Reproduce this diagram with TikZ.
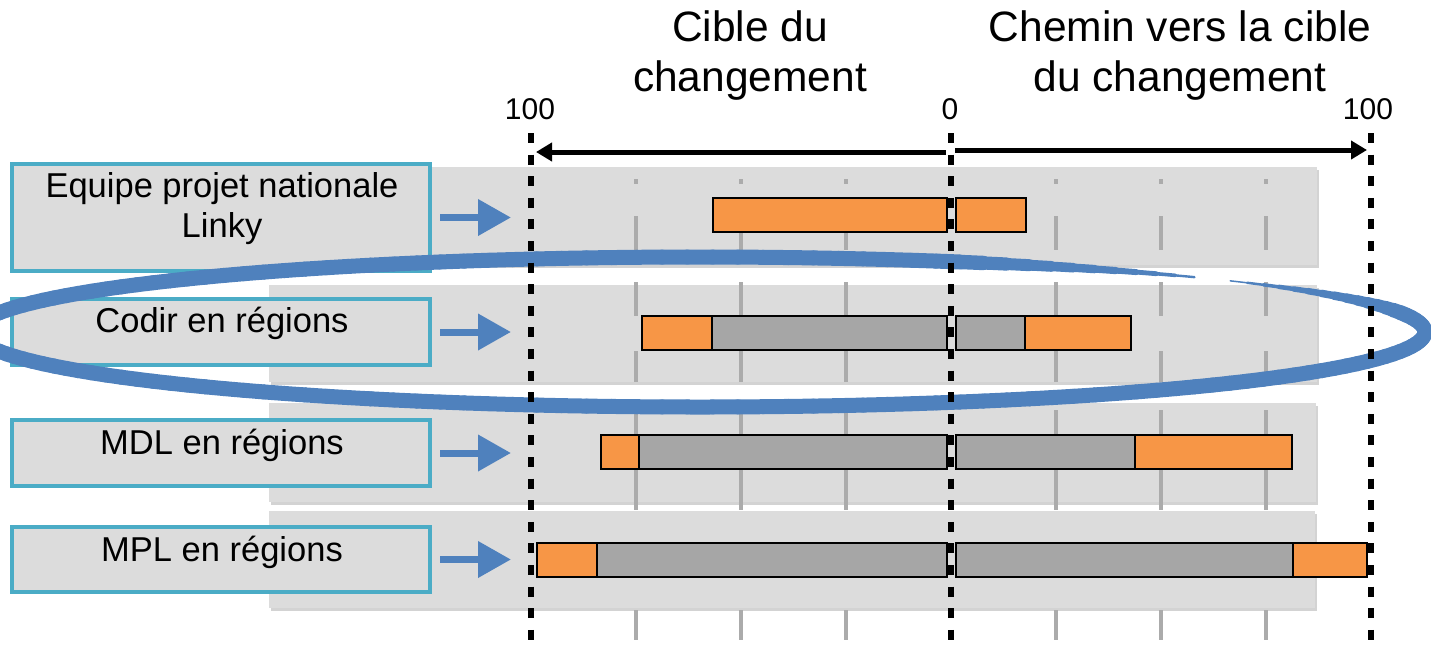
\documentclass[tikz,border=0pt]{standalone}
\usepackage{fontspec}
\setmainfont{Liberation Sans}
\usetikzlibrary{arrows.meta,shadows}
\definecolor{panelgray}{HTML}{DCDCDC}
\definecolor{tealframe}{HTML}{4BACC6}
\definecolor{loopblue}{HTML}{4F81BD}
\definecolor{barorange}{HTML}{F79646}
\definecolor{bargray}{HTML}{A6A6A6}
\definecolor{gridgray}{HTML}{ABABAB}

\begin{document}
\begin{tikzpicture}[x=0.5pt,y=-0.5pt,
    panel/.style={fill=panelgray,drop shadow={shadow xshift=1pt,shadow yshift=-1.5pt,opacity=0.35}},
    gridline/.style={draw=gridgray,line width=2pt},
    orangebar/.style={fill=barorange,draw=black,line width=1.4pt},
    graybar/.style={fill=bargray,draw=black,line width=1.4pt},
    lblbox/.style={draw=tealframe,line width=2pt,fill=panelgray,minimum width=209pt,inner sep=0pt},
    lbltext/.style={font=\fontsize{17.25}{20}\selectfont,align=center,inner sep=0pt},
    titletext/.style={font=\fontsize{21.25}{25}\selectfont,align=center,inner sep=0pt},
    numtext/.style={font=\fontsize{15}{18}\selectfont,inner sep=0pt,anchor=base},
    blockarrow/.style={draw=loopblue,line width=3.5pt,-{Triangle[length=16.5pt,width=17.5pt]}},
    axisarrow/.style={line width=2.5pt,-{Triangle[length=8pt,width=9pt]}},
    axisdash/.style={line width=3pt,dash pattern=on 5pt off 5.8pt},
    loopline/.style={draw=loopblue,line cap=round}
  ]

\useasboundingbox (0,0) rectangle (1431,649);
\clip (0,0) rectangle (1431,649);

\fill[panel] (269,167) rectangle (1317,265);
\fill[panel] (269,285) rectangle (1317,382);
\fill[panel] (269,403) rectangle (1316,502);
\fill[panel] (269,511) rectangle (1315,608);

\foreach \gx in {636,741,846,1056,1161,1266}
  \foreach \ga/\gb in {179/184,216/250,282/316,351/382,410/435,469/510,610/640}
    \draw[gridline] (\gx,\ga) to (\gx,\gb);

\foreach \ytop/\lo/\ls/\rs/\re in {198/713/947/956/1026,316/642/712/1025/1131,435/601/639/1135/1292,543/537/597/1293/1367} {
  \draw[orangebar] (\lo,\ytop) rectangle (947,\ytop+34);
  \draw[graybar] (\ls,\ytop) rectangle (947,\ytop+34);
  \draw[orangebar] (956,\ytop) rectangle (\re,\ytop+34);
  \draw[graybar] (956,\ytop) rectangle (\rs,\ytop+34);
}

\node[lblbox,minimum height=53.5pt] (linky) at (221,217.5) {};
\node[lblbox,minimum height=33pt] (codir) at (221,332) {};
\node[lblbox,minimum height=33pt] (mdl) at (221,453) {};
\node[lblbox,minimum height=32.5pt] (mpl) at (221,559.5) {};

\node[lbltext] (linkytxt) at (222,209) {Equipe projet nationale\\Linky};
\node[lbltext] (codirtxt) at (222,323) {Codir en régions};
\node[lbltext] (mdltxt) at (222,445) {MDL en régions};
\node[lbltext] (mpltxt) at (222,552) {MPL en régions};

\draw[blockarrow] ([xshift=4pt]linky.east) to ([xshift=39.5pt]linky.east);
\draw[blockarrow] ([xshift=4pt]codir.east) to ([xshift=39.5pt]codir.east);
\draw[blockarrow] ([xshift=4pt]mdl.east) to ([xshift=39.5pt]mdl.east);
\draw[blockarrow] ([xshift=4pt]mpl.east) to ([xshift=39.5pt]mpl.east);

\coordinate (loopc) at (700,332);
\foreach \a [evaluate=\a as \w using {max(0.6,min(7.5,0.25*(\a+46),0.3*(315-\a)))}] in {-43,-41,...,311}
  \draw[loopline,line width=\w pt] (loopc) ++(\a:725 and 75) arc[start angle=\a,end angle=\a+2,x radius=725,y radius=75];

\coordinate (left100) at (531,133);
\coordinate (zero) at (951,133);
\coordinate (right100) at (1371,133);
\draw[axisdash] (left100) to ++(0,507);
\draw[axisdash] (zero) to ++(0,507);
\draw[axisdash] (right100) to ++(0,507);

\coordinate (leftstart) at (946,152);
\coordinate (leftend) at (536,152);
\coordinate (rightstart) at (955,150);
\coordinate (rightend) at (1367,150);
\draw[axisarrow] (leftstart) to (leftend);
\draw[axisarrow] (rightstart) to (rightend);

\node[numtext] (n100l) at (530,119) {100};
\node[numtext] (n0) at (950,119) {0};
\node[numtext] (n100r) at (1368,119) {100};

\node[titletext] (cible) at (750,56) {Cible du\\changement};
\node[titletext] (chemin) at (1180,56) {Chemin vers la cible\\du changement};

\end{tikzpicture}
\end{document}
